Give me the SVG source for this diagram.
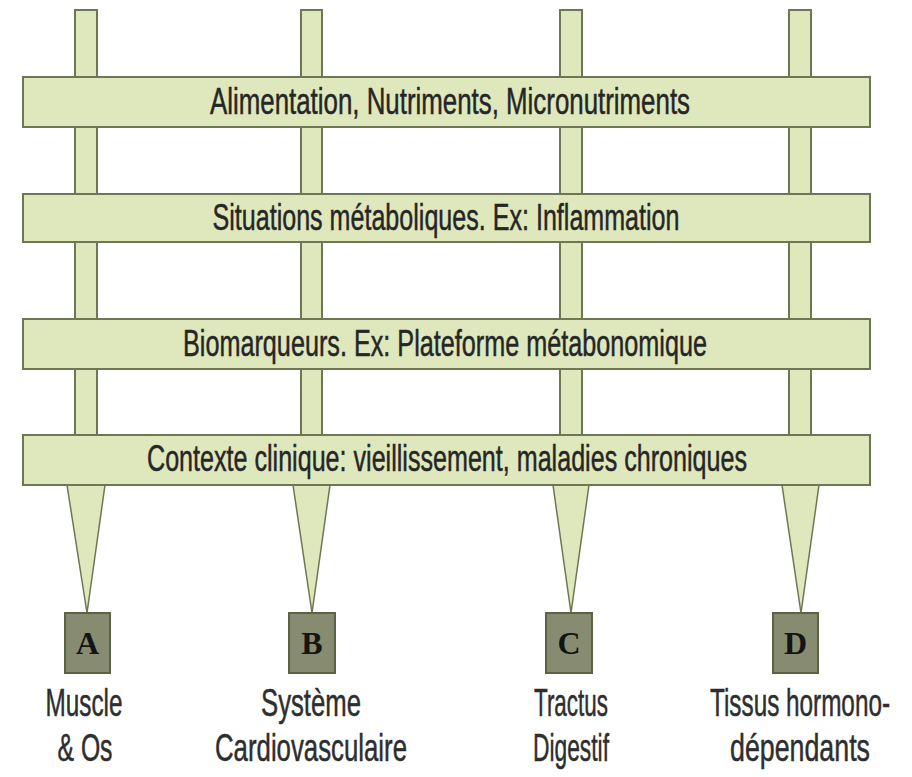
<svg xmlns="http://www.w3.org/2000/svg" width="912" height="777" viewBox="0 0 912 777">
<style>
.post{fill:#dfe8bd;stroke:#6e7753;stroke-width:2}
.band{fill:#dfe8bd;stroke:#6e7753;stroke-width:2}
.cone{fill:#dfe8bd;stroke:#6e7753;stroke-width:1.5}
.box{fill:#878c70;stroke:#5c6246;stroke-width:2}
.bt{font-family:"Liberation Sans Narrow","Liberation Sans",Arial,sans-serif;font-size:36px;fill:#262626;stroke:#262626;stroke-width:0.5;text-anchor:middle}
.lt{font-family:"Liberation Serif","Times New Roman",serif;font-weight:bold;font-size:32px;fill:#141414;text-anchor:middle}
.lab{font-family:"Liberation Sans Narrow","Liberation Sans",Arial,sans-serif;font-size:38px;fill:#2e2e2e;stroke:#2e2e2e;stroke-width:0.5;text-anchor:middle}
</style>
<rect width="912" height="777" fill="#ffffff"/>
<g id="connectors">
<rect class="post" x="75" y="10" width="22" height="430"/>
<rect class="post" x="301" y="10" width="21" height="430"/>
<rect class="post" x="560" y="10" width="22" height="430"/>
<rect class="post" x="789" y="10" width="22" height="430"/>
<polygon class="cone" points="67,485 105,485 87,613"/>
<polygon class="cone" points="293,485 330,485 312,613"/>
<polygon class="cone" points="553,485 589,485 571,613"/>
<polygon class="cone" points="782,485 819,485 801,613"/>
</g>
<g id="band1"><rect class="band" x="23" y="77" width="847" height="50"/><text class="bt" x="450" y="114" textLength="480" lengthAdjust="spacingAndGlyphs">Alimentation, Nutriments, Micronutriments</text></g>
<g id="band2"><rect class="band" x="23" y="194" width="847" height="48"/><text class="bt" x="446" y="230" textLength="467" lengthAdjust="spacingAndGlyphs">Situations métaboliques. Ex: Inflammation</text></g>
<g id="band3"><rect class="band" x="23" y="319" width="847" height="50"/><text class="bt" x="445" y="356" textLength="524" lengthAdjust="spacingAndGlyphs">Biomarqueurs. Ex: Plateforme métabonomique</text></g>
<g id="band4"><rect class="band" x="23" y="435" width="847" height="50"/><text class="bt" x="447" y="471" textLength="600" lengthAdjust="spacingAndGlyphs">Contexte clinique: vieillissement, maladies chroniques</text></g>
<g id="nodeA"><rect class="box" x="65" y="613" width="45" height="60"/><text class="lt" x="87.5" y="654">A</text>
<text class="lab" x="84" y="716" textLength="77" lengthAdjust="spacingAndGlyphs">Muscle</text><text class="lab" x="85" y="761" textLength="55" lengthAdjust="spacingAndGlyphs">&amp; Os</text></g>
<g id="nodeB"><rect class="box" x="289" y="613" width="46" height="60"/><text class="lt" x="312" y="654">B</text>
<text class="lab" x="311" y="716" textLength="100" lengthAdjust="spacingAndGlyphs">Système</text><text class="lab" x="311" y="761" textLength="192" lengthAdjust="spacingAndGlyphs">Cardiovasculaire</text></g>
<g id="nodeC"><rect class="box" x="546" y="613" width="46" height="60"/><text class="lt" x="569" y="654">C</text>
<text class="lab" x="571" y="716" textLength="74" lengthAdjust="spacingAndGlyphs">Tractus</text><text class="lab" x="571" y="761" textLength="76" lengthAdjust="spacingAndGlyphs">Digestif</text></g>
<g id="nodeD"><rect class="box" x="773" y="613" width="45" height="60"/><text class="lt" x="795.5" y="654">D</text>
<text class="lab" x="800" y="716" textLength="180" lengthAdjust="spacingAndGlyphs">Tissus hormono-</text><text class="lab" x="800" y="761" textLength="140" lengthAdjust="spacingAndGlyphs">dépendants</text></g>
</svg>
